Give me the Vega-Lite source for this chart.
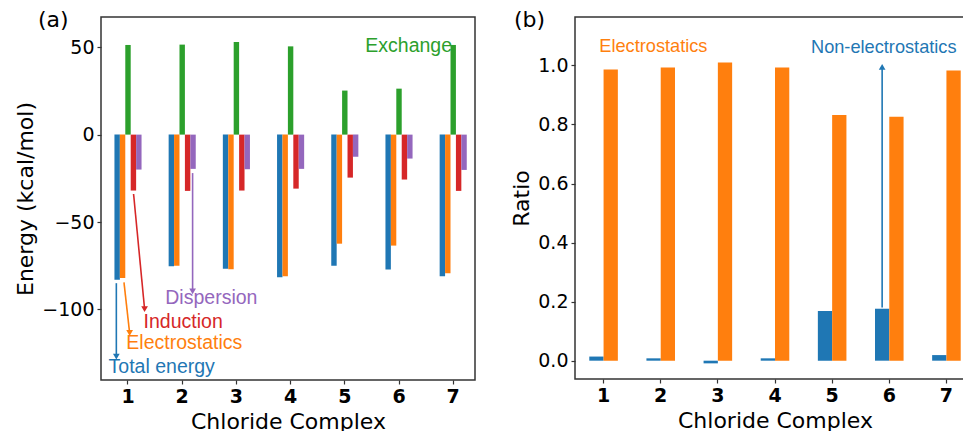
{
  "$schema": "https://vega.github.io/schema/vega-lite/v6.json",
  "padding": {"left": 14, "top": 8, "right": 0, "bottom": 0},
  "background": "white",
  "spacing": 34,
  "resolve": {"scale": {"xOffset": "independent", "color": "independent"}},
  "config": {
    "view": {"stroke": "#333", "strokeWidth": 1.5},
    "axis": {"grid": false, "domain": false, "tickColor": "#333", "tickSize": 4, "tickWidth": 1.2, "labelFont": "DejaVu Sans", "labelFontSize": 19, "labelColor": "black", "labelPadding": 3, "titleFont": "DejaVu Sans", "titleFontSize": 22, "titleFontWeight": "normal", "titleColor": "black"},
    "axisX": {"labelFontWeight": "bold", "labelAngle": 0, "titlePadding": 5},
    "title": {"font": "DejaVu Sans", "fontSize": 22, "fontWeight": "normal", "anchor": "start", "frame": "group", "baseline": "alphabetic", "offset": -15, "color": "black"}
  },
  "datasets": {
    "energy": [
      {"complex": 1, "term": "Total energy", "energy": -83.1},
      {"complex": 1, "term": "Electrostatics", "energy": -82.0},
      {"complex": 1, "term": "Exchange", "energy": 51.3},
      {"complex": 1, "term": "Induction", "energy": -32.0},
      {"complex": 1, "term": "Dispersion", "energy": -20.0},
      {"complex": 2, "term": "Total energy", "energy": -75.3},
      {"complex": 2, "term": "Electrostatics", "energy": -75.0},
      {"complex": 2, "term": "Exchange", "energy": 51.5},
      {"complex": 2, "term": "Induction", "energy": -32.2},
      {"complex": 2, "term": "Dispersion", "energy": -19.6},
      {"complex": 3, "term": "Total energy", "energy": -76.7},
      {"complex": 3, "term": "Electrostatics", "energy": -77.0},
      {"complex": 3, "term": "Exchange", "energy": 53.0},
      {"complex": 3, "term": "Induction", "energy": -32.0},
      {"complex": 3, "term": "Dispersion", "energy": -19.8},
      {"complex": 4, "term": "Total energy", "energy": -81.6},
      {"complex": 4, "term": "Electrostatics", "energy": -81.0},
      {"complex": 4, "term": "Exchange", "energy": 50.5},
      {"complex": 4, "term": "Induction", "energy": -30.9},
      {"complex": 4, "term": "Dispersion", "energy": -19.6},
      {"complex": 5, "term": "Total energy", "energy": -75.0},
      {"complex": 5, "term": "Electrostatics", "energy": -62.4},
      {"complex": 5, "term": "Exchange", "energy": 25.2},
      {"complex": 5, "term": "Induction", "energy": -24.6},
      {"complex": 5, "term": "Dispersion", "energy": -12.6},
      {"complex": 6, "term": "Total energy", "energy": -77.2},
      {"complex": 6, "term": "Electrostatics", "energy": -63.5},
      {"complex": 6, "term": "Exchange", "energy": 26.3},
      {"complex": 6, "term": "Induction", "energy": -25.7},
      {"complex": 6, "term": "Dispersion", "energy": -13.7},
      {"complex": 7, "term": "Total energy", "energy": -81.0},
      {"complex": 7, "term": "Electrostatics", "energy": -79.3},
      {"complex": 7, "term": "Exchange", "energy": 51.3},
      {"complex": 7, "term": "Induction", "energy": -32.2},
      {"complex": 7, "term": "Dispersion", "energy": -20.2}
    ],
    "arrowsA": [
      {"term": "Total energy", "x1": 0.785, "y1": -85, "x2": 0.785, "y2": -127},
      {"term": "Electrostatics", "x1": 0.926, "y1": -84.5, "x2": 1.03, "y2": -113.5},
      {"term": "Induction", "x1": 1.103, "y1": -34, "x2": 1.306, "y2": -99.8},
      {"term": "Dispersion", "x1": 2.192, "y1": -22, "x2": 2.192, "y2": -89.7}
    ],
    "labelsA": [
      {"term": "Total energy", "tx": 0.642, "ty": -132.9},
      {"term": "Electrostatics", "tx": 0.969, "ty": -119.2},
      {"term": "Induction", "tx": 1.288, "ty": -107.0},
      {"term": "Dispersion", "tx": 1.688, "ty": -93.5},
      {"term": "Exchange", "tx": 5.378, "ty": 50.5}
    ],
    "ratio": [
      {"complex": 1, "part": "Non-electrostatics", "ratio": 0.014},
      {"complex": 1, "part": "Electrostatics", "ratio": 0.986},
      {"complex": 2, "part": "Non-electrostatics", "ratio": 0.008},
      {"complex": 2, "part": "Electrostatics", "ratio": 0.993},
      {"complex": 3, "part": "Non-electrostatics", "ratio": -0.009},
      {"complex": 3, "part": "Electrostatics", "ratio": 1.010},
      {"complex": 4, "part": "Non-electrostatics", "ratio": 0.008},
      {"complex": 4, "part": "Electrostatics", "ratio": 0.993},
      {"complex": 5, "part": "Non-electrostatics", "ratio": 0.168},
      {"complex": 5, "part": "Electrostatics", "ratio": 0.832},
      {"complex": 6, "part": "Non-electrostatics", "ratio": 0.176},
      {"complex": 6, "part": "Electrostatics", "ratio": 0.826},
      {"complex": 7, "part": "Non-electrostatics", "ratio": 0.019},
      {"complex": 7, "part": "Electrostatics", "ratio": 0.983}
    ],
    "arrowB": [
      {"part": "Non-electrostatics", "x1": 5.875, "y1": 0.18, "x2": 5.875, "y2": 0.995}
    ],
    "labelsB": [
      {"part": "Electrostatics", "tx": 0.925, "ty": 1.064},
      {"part": "Non-electrostatics", "tx": 4.63, "ty": 1.059}
    ]
  },
  "hconcat": [
    {
      "width": 374,
      "height": 363,
      "title": {"text": "(a)", "dx": -63},
      "resolve": {"scale": {"x": "independent"}},
      "layer": [
        {
          "data": {"name": "energy"},
          "mark": {"type": "bar"},
          "encoding": {
            "x": {"field": "complex", "type": "ordinal", "title": "Chloride Complex", "scale": {"paddingInner": 0.5, "paddingOuter": 0.2, "align": 0.62}},
            "xOffset": {"field": "term", "type": "nominal", "scale": {"domain": ["Total energy", "Electrostatics", "Exchange", "Induction", "Dispersion"]}},
            "y": {"field": "energy", "type": "quantitative", "title": "Energy (kcal/mol)", "scale": {"domain": [-140.4, 67.3], "nice": false}, "axis": {"values": [-100, -50, 0, 50]}},
            "color": {"field": "term", "type": "nominal", "legend": null, "scale": {"domain": ["Total energy", "Electrostatics", "Exchange", "Induction", "Dispersion"], "range": ["#1f77b4", "#ff7f0e", "#2ca02c", "#d62728", "#9467bd"]}}
          }
        },
        {
          "layer": [
            {
              "data": {"name": "arrowsA"},
              "mark": {"type": "rule", "strokeWidth": 1.6},
              "encoding": {
                "x": {"field": "x1", "type": "quantitative", "axis": null, "scale": {"domain": [0.502, 7.402], "nice": false, "zero": false}},
                "x2": {"field": "x2"},
                "y": {"field": "y1", "type": "quantitative", "title": "Energy (kcal/mol)", "scale": {"domain": [-140.4, 67.3], "nice": false}},
                "y2": {"field": "y2"},
                "color": {"field": "term", "type": "nominal", "legend": null, "scale": {"domain": ["Total energy", "Electrostatics", "Exchange", "Induction", "Dispersion"], "range": ["#1f77b4", "#ff7f0e", "#2ca02c", "#d62728", "#9467bd"]}}
              }
            },
            {
              "data": {"name": "arrowsA"},
              "mark": {"type": "point", "shape": "triangle-down", "filled": true, "size": 45, "opacity": 1},
              "encoding": {
                "x": {"field": "x2", "type": "quantitative", "axis": null, "scale": {"domain": [0.502, 7.402], "nice": false, "zero": false}},
                "y": {"field": "y2", "type": "quantitative", "title": "Energy (kcal/mol)", "scale": {"domain": [-140.4, 67.3], "nice": false}},
                "color": {"field": "term", "type": "nominal", "legend": null, "scale": {"domain": ["Total energy", "Electrostatics", "Exchange", "Induction", "Dispersion"], "range": ["#1f77b4", "#ff7f0e", "#2ca02c", "#d62728", "#9467bd"]}}
              }
            },
            {
              "data": {"name": "labelsA"},
              "mark": {"type": "text", "align": "left", "baseline": "middle", "font": "Liberation Sans", "fontSize": 19.5},
              "encoding": {
                "x": {"field": "tx", "type": "quantitative", "axis": null, "scale": {"domain": [0.502, 7.402], "nice": false, "zero": false}},
                "y": {"field": "ty", "type": "quantitative", "title": "Energy (kcal/mol)", "scale": {"domain": [-140.4, 67.3], "nice": false}},
                "text": {"field": "term"},
                "color": {"field": "term", "type": "nominal", "legend": null, "scale": {"domain": ["Total energy", "Electrostatics", "Exchange", "Induction", "Dispersion"], "range": ["#1f77b4", "#ff7f0e", "#2ca02c", "#d62728", "#9467bd"]}}
              }
            }
          ]
        }
      ]
    },
    {
      "width": 400,
      "height": 362,
      "title": {"text": "(b)", "dx": -61},
      "resolve": {"scale": {"x": "independent"}},
      "layer": [
        {
          "data": {"name": "ratio"},
          "mark": {"type": "bar"},
          "encoding": {
            "x": {"field": "complex", "type": "ordinal", "title": "Chloride Complex", "scale": {"paddingInner": 0.5, "paddingOuter": 0.25}},
            "xOffset": {"field": "part", "type": "nominal", "scale": {"domain": ["Non-electrostatics", "Electrostatics"]}},
            "y": {"field": "ratio", "type": "quantitative", "title": "Ratio", "scale": {"domain": [-0.062, 1.164], "nice": false}, "axis": {"values": [0, 0.2, 0.4, 0.6, 0.8, 1.0], "format": ".1f"}},
            "color": {"field": "part", "type": "nominal", "legend": null, "scale": {"domain": ["Non-electrostatics", "Electrostatics"], "range": ["#1f77b4", "#ff7f0e"]}}
          }
        },
        {
          "layer": [
            {
              "data": {"name": "arrowB"},
              "mark": {"type": "rule", "strokeWidth": 1.6},
              "encoding": {
                "x": {"field": "x1", "type": "quantitative", "axis": null, "scale": {"domain": [0.5, 7.5], "nice": false, "zero": false}},
                "x2": {"field": "x2"},
                "y": {"field": "y1", "type": "quantitative", "title": "Ratio", "scale": {"domain": [-0.062, 1.164], "nice": false}},
                "y2": {"field": "y2"},
                "color": {"field": "part", "type": "nominal", "legend": null, "scale": {"domain": ["Non-electrostatics", "Electrostatics"], "range": ["#1f77b4", "#ff7f0e"]}}
              }
            },
            {
              "data": {"name": "arrowB"},
              "mark": {"type": "point", "shape": "triangle-up", "filled": true, "size": 45, "opacity": 1},
              "encoding": {
                "x": {"field": "x2", "type": "quantitative", "axis": null, "scale": {"domain": [0.5, 7.5], "nice": false, "zero": false}},
                "y": {"field": "y2", "type": "quantitative", "title": "Ratio", "scale": {"domain": [-0.062, 1.164], "nice": false}},
                "color": {"field": "part", "type": "nominal", "legend": null, "scale": {"domain": ["Non-electrostatics", "Electrostatics"], "range": ["#1f77b4", "#ff7f0e"]}}
              }
            },
            {
              "data": {"name": "labelsB"},
              "mark": {"type": "text", "align": "left", "baseline": "middle", "font": "Liberation Sans", "fontSize": 18.2},
              "encoding": {
                "x": {"field": "tx", "type": "quantitative", "axis": null, "scale": {"domain": [0.5, 7.5], "nice": false, "zero": false}},
                "y": {"field": "ty", "type": "quantitative", "title": "Ratio", "scale": {"domain": [-0.062, 1.164], "nice": false}},
                "text": {"field": "part"},
                "color": {"field": "part", "type": "nominal", "legend": null, "scale": {"domain": ["Non-electrostatics", "Electrostatics"], "range": ["#1f77b4", "#ff7f0e"]}}
              }
            }
          ]
        }
      ]
    }
  ]
}
